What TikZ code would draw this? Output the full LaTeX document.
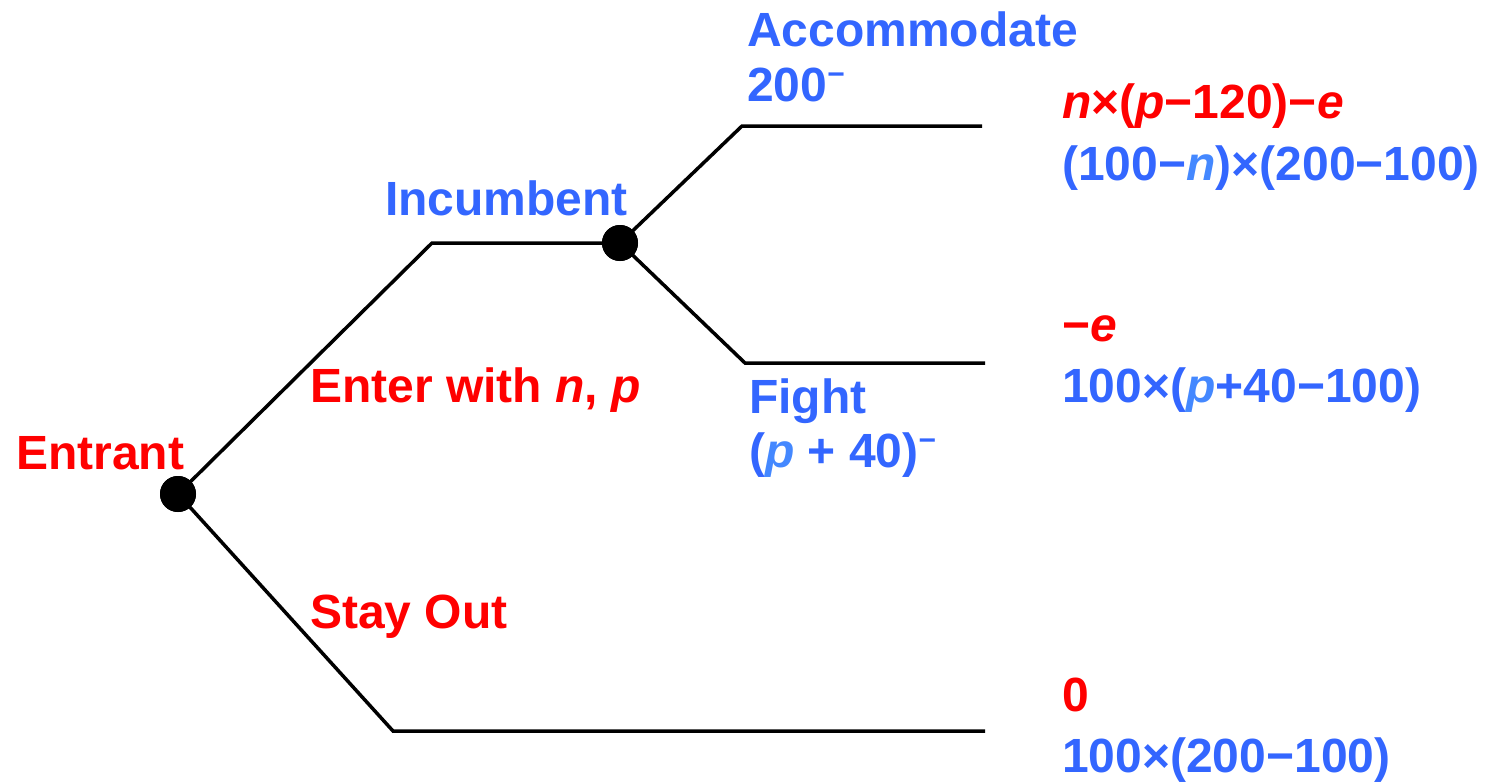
\documentclass[tikz,border=0pt]{standalone}
\usepackage{fontspec}
\setmainfont{Liberation Sans}
\definecolor{tred}{RGB}{255,0,0}
\definecolor{tblue}{RGB}{51,102,255}
\definecolor{tblueit}{RGB}{68,136,255}
\newcommand{\supminus}{\raisebox{0.34em}{\fontsize{30}{30}\selectfont −}}
\begin{document}
\begin{tikzpicture}[x=1pt,y=-1pt,
  lbl/.style={anchor=base west,inner sep=0pt,font=\fontsize{48}{56}\selectfont\bfseries},
  redt/.style={lbl,text=tred},
  bluet/.style={lbl,text=tblue},
  branch/.style={line width=3.5pt,line join=miter},
  dotnode/.style={circle,fill=black,minimum size=36pt,inner sep=0pt}]
\useasboundingbox (0,0) rectangle (1499,784);
% decision nodes
\node[dotnode] (E) at (178,494) {};
\node[dotnode] (I) at (620,243) {};
% corner coordinates and ends
\coordinate (up) at (432,243);
\coordinate (lo) at (393,731);
\coordinate (loend) at (985,731);
\coordinate (acc) at (742,126);
\coordinate (accend) at (982,126);
\coordinate (fig) at (745,363);
\coordinate (figend) at (985,363);
% branches
\draw[branch] (E.center) -- (up) -- (I.center);
\draw[branch] (E.center) -- (lo) -- (loend);
\draw[branch] (I.center) -- (acc) -- (accend);
\draw[branch] (I.center) -- (fig) -- (figend);
\node[dotnode] at (E) {};
\node[dotnode] at (I) {};
% labels
\node[redt] (tEntrant) at (16,469) {Entrant};
\node[bluet] (tInc) at (385,215) {Incumbent};
\node[redt] (tEnter) at (310,402) {Enter with \textit{n}, \textit{p}};
\node[redt] (tStay) at (310,628) {Stay Out};
\node[bluet] (tAcc) at (747,47) {Accommodate};
\node[bluet] (tAcc2) at (747,101) {200\supminus};
\node[bluet] (tFight) at (749,413) {Fight};
\node[bluet] (tFight2) at (749,467) {(\textcolor{tblueit}{\textit{p}} + 40)\supminus};
% payoffs
\node[redt] (pa1) at (1062,118) {\textit{n}×(\textit{p}−120)−\textit{e}};
\node[bluet] (pa2) at (1062,180) {(100−\textcolor{tblueit}{\textit{n}})×(200−100)};
\node[redt] (pf1) at (1062,341) {−\textit{e}};
\node[bluet] (pf2) at (1062,402) {100×(\textcolor{tblueit}{\textit{p}}+40−100)};
\node[redt] (ps1) at (1062,711) {0};
\node[bluet] (ps2) at (1062,772) {100×(200−100)};
\end{tikzpicture}
\end{document}
